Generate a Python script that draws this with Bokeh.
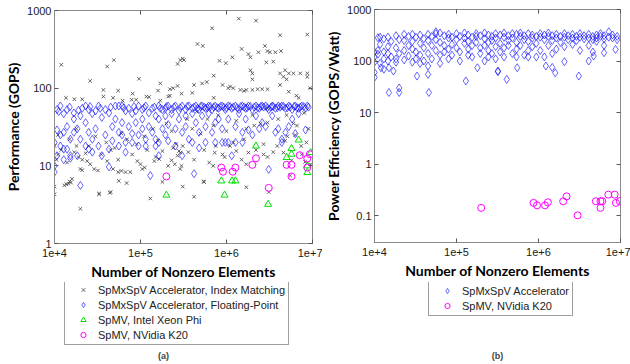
from bokeh.plotting import figure
from bokeh.models import LogAxis, FixedTicker, Legend, LegendItem, Label, Range1d
from bokeh.layouts import row, column
from bokeh.embed import file_html
from bokeh.resources import INLINE

# ---------------- tick definitions ----------------
x_ticks = [10000, 100000, 1000000, 10000000]
x_tick_labels = ["1e+4", "1e+5", "1e+6", "1e+7"]
perf_ticks = [1, 10, 100, 1000]
perf_tick_labels = ["1", "10", "100", "1000"]
eff_ticks = [0.1, 1, 10, 100, 1000]
eff_tick_labels = ["0.1", "1", "10", "100", "1000"]

# ---------------- panel (a): performance ----------------
# SpMxSpV Accelerator, Index Matching
idx_x = [1.2e4, 1.36e4, 1.7e4, 2.1e4, 2.6e4, 3.7e4, 3.7e4, 4.1e4, 4.9e4, 4.8e4, 5.5e4, 6.2e4,
         7.9e4, 8.1e4, 9.6e4, 8.9e4, 1.17e5, 1.26e5, 1.6e5, 1.7e5, 1.7e5, 2.1e5, 2.2e5, 2.4e5,
         2.2e5, 2.7e5, 2.9e5, 2.7e5, 3.1e5, 3.0e5, 3.2e5, 4.0e5, 4.2e5, 4.6e5, 5.3e5, 5.2e5,
         5.9e5, 6.8e5, 7.1e5, 7.1e5, 8.3e5, 9.0e5, 9.8e5, 1.05e6, 1.1e6, 1.17e6, 1.2e6, 1.39e6,
         1.45e6, 1.5e6, 1.8e6, 1.9e6, 1.9e6, 2.0e6, 2.0e6, 1.7e6, 2.0e6, 2.2e6, 2.3e6, 2.35e6,
         2.6e6, 2.8e6, 2.9e6, 3.0e6, 3.2e6, 3.7e6, 4.2e6, 4.3e6, 4.2e6, 4.2e6, 4.6e6, 4.8e6,
         5.0e6, 5.3e6, 5.3e6, 6.0e6, 6.5e6, 6.9e6, 7.2e6, 8.7e6, 8.7e6, 8.7e6, 9.4e6, 3.0e6,
         3.5e6, 1.6e6,
         1.0e4, 1.1e4, 1.05e4, 1.0e4, 1.0e4, 1.37e4, 1.5e4, 1.55e4, 1.6e4, 1.3e4, 2.0e4, 1.8e4,
         1.9e4, 2.3e4, 2.4e4, 2.6e4, 2.9e4, 3.2e4, 2.0e4, 2.1e4, 3.3e4, 4.4e4, 4.1e4, 4.8e4,
         5.5e4, 6.0e4, 6.7e4, 7.6e4, 9.2e4, 1.0e5, 1.05e5, 1.12e5, 1.3e5, 1.45e5, 1.65e5, 1.8e5,
         1.8e5, 2.3e5, 2.5e5, 2.8e5, 3.1e5, 3.1e5, 2.7e5, 2.9e5, 3.0e5, 2.9e5, 4.2e5, 5.4e5,
         5.5e5, 7.0e5, 7.3e5, 9.0e5, 1.1e6, 1.3e6, 1.7e6, 1.7e6, 2.7e6, 3.0e6, 3.9e6, 4.6e6,
         5.7e6, 5.5e6, 6.6e6, 5.1e6, 7.4e6, 8.2e6, 2.7e6, 1.8e6, 1.6e6, 2.1e6, 3.0e6, 6.3e6,
         3.1e6, 4.5e4, 6.9e4, 5.6e4, 1.45e4, 3.3e4, 9.5e6,
         1.1e4, 1.5e4, 1.8e4, 2.5e4, 3.0e4, 4.0e4, 5.0e4, 6.0e4, 7.0e4, 9.0e4, 1.1e5, 1.4e5,
         1.6e5, 2.0e5, 2.3e5, 2.6e5, 3.5e5, 4.0e5, 4.5e5, 5.0e5, 6.0e5, 7.0e5, 8.0e5, 1.0e6,
         1.3e6, 1.7e6, 2.0e6, 2.5e6, 3.0e6, 4.0e6, 5.0e6, 6.0e6, 8.0e6, 9.0e6,
         1.2e4, 1.4e4, 1.7e4, 2.1e4, 3.5e4, 4.5e4, 5.5e4, 8.0e4, 1.2e5, 1.5e5, 2.1e5, 2.4e5,
         3.6e5, 4.2e5, 5.5e5, 6.3e5, 7.5e5, 9.5e5, 1.2e6, 1.5e6, 2.2e6, 3.5e6, 4.8e6, 7.5e6,
         8.5e6]
idx_y = [200, 75, 72, 72, 124, 95, 78, 190, 230, 75, 93, 69,
         71, 85, 132, 71, 78, 77, 93, 115, 69, 78, 80, 100,
         97, 107, 230, 205, 240, 85, 230, 87, 110, 370, 350, 115,
         120, 590, 145, 75, 225, 110, 210, 100, 105, 250, 100, 785,
         95, 320, 275, 250, 170, 155, 130, 95, 95, 740, 97, 290,
         97, 350, 215, 97, 290, 290, 480, 300, 155, 110, 140, 170,
         130, 155, 90, 155, 80, 75, 155, 490, 155, 140, 100, 300,
         220, 92,
         18, 14, 12, 5.4, 4.3, 5.8, 6.3, 6.1, 6.8, 5.6, 2.8, 18,
         13, 14.5, 11.5, 10.5, 9.1, 8.7, 9.1, 8.8, 4.4, 4.5, 11.5, 9.1,
         8.3, 8.6, 8.3, 8.3, 11.5, 10.5, 9.1, 9.5, 3.8, 11.5, 12.2, 15.5,
         6.2, 11.8, 10.5, 15.5, 5.4, 18, 13.5, 14.8, 10, 9.1, 4.0, 6.3,
         6.2, 10, 14.8, 14, 18, 15.5, 5.3, 10.5, 19, 13, 18, 14.8,
         11.8, 7.5, 33, 24, 18, 11.2, 14, 14.8, 22, 33, 36, 25,
         4.6, 4.6, 6.0, 6.4, 5.9, 4.3, 10.5,
         25, 22, 30, 18, 24, 20, 17, 26, 22, 19, 24, 30,
         21, 35, 28, 19, 40, 30, 50, 26, 40, 33, 45, 28,
         38, 30, 45, 35, 55, 40, 45, 35, 48, 30,
         16, 11, 15, 12, 14, 16, 12, 14, 16, 13, 10, 17,
         15, 12, 16, 11, 18, 13, 20, 12, 16, 15, 21, 14,
         20]

# SpMxSpV Accelerator, Floating-Point (x positions and the values found at each)
fp_cols_x = [1.0e4, 1.07e4, 1.17e4, 1.28e4, 1.4e4, 1.53e4, 1.68e4, 1.84e4, 2.0e4, 2.1e4,
             2.3e4, 2.5e4, 2.75e4, 3.0e4, 3.25e4, 3.55e4, 3.9e4, 4.3e4, 4.7e4, 5.1e4,
             5.6e4, 6.1e4, 6.7e4, 7.3e4, 8.0e4, 8.8e4, 9.5e4, 1.05e5, 1.15e5, 1.25e5,
             1.3e5, 1.37e5, 1.5e5, 1.63e5, 1.8e5, 1.95e5, 2.1e5, 2.3e5, 2.55e5, 2.8e5,
             3.05e5, 3.35e5, 3.65e5, 4.0e5, 4.2e5, 4.4e5, 4.8e5, 5.2e5, 5.7e5, 6.2e5,
             6.8e5, 7.4e5, 8.1e5, 8.9e5, 9.7e5, 1.05e6, 1.15e6, 1.27e6, 1.4e6, 1.53e6,
             1.67e6, 1.8e6, 2.0e6, 2.2e6, 2.4e6, 2.6e6, 2.85e6, 3.1e6, 3.4e6, 3.7e6,
             4.0e6, 4.4e6, 4.85e6, 5.3e6, 5.8e6, 6.3e6, 6.9e6, 7.5e6, 8.3e6, 8.7e6]
fp_cols_y = [[20, 10, 8.3], [29, 53, 13.5], [59, 25, 18], [47, 27, 16.4, 12], [53, 32, 16.4],
             [22, 13.5, 12.5], [48, 40, 27], [30, 13.5], [5.6, 44, 22], [55],
             [59, 18, 36], [53, 27, 16.4], [47, 22, 15], [51, 30], [59, 18],
             [42, 13.5], [53, 25], [48, 16.4, 9.7], [32, 21], [59, 40],
             [59, 18, 27], [59, 36, 25], [51, 20, 15], [55, 32], [47, 26, 20],
             [51, 36], [59, 25, 18], [53, 40, 30], [59, 22, 18], [48, 32],
             [7.5], [55, 27], [44, 22, 18], [59, 40, 20, 13.5], [53, 30],
             [55, 44, 25], [59, 34, 21], [53, 47], [59, 30, 18], [51, 40],
             [59, 27, 13.5], [53, 44, 32], [59, 22], [55, 47, 20], [7.9],
             [59, 36], [53, 27, 17], [59, 44], [55, 32, 20], [59, 47],
             [53, 27], [59, 36, 20], [55, 40], [59, 20, 30], [53, 20],
             [59, 40, 20], [55, 13.5], [59, 20, 32], [53, 47], [59, 20, 27],
             [55, 40], [59, 29], [53, 25], [59, 44], [55, 30],
             [59, 36], [59, 32], [53, 9], [59, 44], [55, 27],
             [59, 30], [59, 22, 20], [55, 27], [59, 32], [53, 40],
             [59, 26], [55, 47], [59], [55, 29], [59]]
fp_top_x = [1.12e4, 1.5e4, 1.9e4, 2.6e4, 3.4e4, 4.5e4, 6.4e4, 8.4e4, 1.1e5, 1.45e5, 1.7e5,
            2.0e5, 2.45e5, 2.9e5, 3.5e5, 4.2e5, 4.6e5, 5.0e5, 5.5e5, 6.0e5, 6.5e5, 7.1e5,
            7.8e5, 8.5e5, 9.3e5, 1.0e6, 1.1e6, 1.2e6, 1.33e6, 1.46e6, 1.6e6, 1.74e6, 1.9e6,
            2.1e6, 2.3e6, 2.5e6, 2.7e6, 3.0e6, 3.3e6, 3.5e6, 3.9e6, 4.2e6, 4.6e6, 5.1e6,
            5.5e6, 6.1e6, 6.6e6, 7.2e6, 7.9e6, 9.0e6]
fp_top_y = [50, 57, 52, 58, 55, 57, 56, 58, 56, 57, 55,
            58, 57, 56, 58, 57, 55, 58, 57, 56, 58, 57,
            56, 58, 57, 56, 58, 57, 56, 58, 57, 56, 58,
            57, 56, 58, 57, 56, 57, 58, 56, 57, 58, 56,
            57, 58, 56, 57, 58, 57]

# SpMV, Intel Xeon Phi
phi_x = [2.0e5, 8.7e5, 1.16e6, 1.27e6, 9.5e5, 2.2e6, 3.05e6, 5.0e6, 5.7e6, 5.7e6, 6.9e6,
         8.7e6, 8.7e6, 9.5e6]
phi_y = [4.2, 6.4, 6.4, 6.4, 4.2, 18, 3.2, 12.8, 14.1, 16.7, 21.5, 8.2, 10, 14.8]

# SpMV, NVidia K20
k20_x = [2.0e5, 8.7e5, 9.1e5, 1.18e6, 1.27e6, 2.0e6, 2.2e6, 3.1e6, 5.0e6, 5.7e6, 5.7e6,
         7.1e6, 8.7e6, 8.7e6, 9.3e6]
k20_y = [7.3, 9.5, 8.4, 8.4, 9.5, 10.3, 12.5, 5.2, 10.3, 10.3, 7.3, 13.7, 12.4, 9.5, 14.1]

# ---------------- panel (b): power efficiency ----------------
eff_cols_x = [1.0e4, 1.1e4, 1.17e4, 1.2e4, 1.3e4, 1.46e4, 1.5e4, 1.6e4, 1.7e4, 1.83e4,
              2.0e4, 2.3e4, 2.6e4, 2.9e4, 3.2e4, 3.3e4, 3.6e4, 4.0e4, 4.5e4, 4.6e4,
              5.0e4, 5.6e4, 6.3e4, 7.1e4, 8.0e4, 8.8e4, 1.0e5, 1.1e5, 1.25e5, 1.3e5,
              1.39e5, 1.55e5, 1.74e5, 1.8e5, 1.95e5, 2.2e5, 2.45e5, 2.7e5, 3.0e5, 3.2e5,
              3.4e5, 3.8e5, 4.1e5, 4.3e5, 4.8e5, 5.4e5, 5.5e5, 6.0e5, 6.7e5, 7.5e5,
              8.4e5, 9.4e5, 1.05e6, 1.18e6, 1.23e6, 1.32e6, 1.47e6, 1.6e6, 1.65e6, 1.85e6,
              2.07e6, 2.3e6, 2.6e6, 2.9e6, 3.1e6, 3.2e6, 3.6e6, 4.1e6, 4.6e6, 4.7e6,
              5.1e6, 5.7e6, 6.3e6, 7.2e6, 8.0e6, 8.7e6, 9.1e6]
eff_cols_y = [[150, 120, 95, 60, 48], [283, 160, 135], [290, 210, 90], [74], [270, 150, 110, 69],
              [290, 190, 140, 100], [24.5, 74], [240, 120], [64], [310, 180, 95, 110],
              [260, 140, 24.5, 30], [330, 250, 160, 105], [300, 200, 125], [330, 240, 170, 95],
              [290, 150, 110], [51], [320, 220, 130, 90], [270, 180, 100], [330, 250, 140, 80, 55],
              [24.5], [300, 200, 110], [370, 340, 260, 160], [350, 230, 130, 90], [310, 200, 150],
              [330, 280, 170, 110], [290, 210, 130], [340, 260, 180], [300, 150, 100],
              [350, 280, 220], [41], [320, 240, 170, 130], [290, 200, 120], [340, 300, 230],
              [74], [310, 180, 140], [350, 270, 200, 100], [320, 230, 160, 120], [300, 250, 140],
              [340, 280, 190, 110], [64, 62], [320, 220, 150], [350, 290, 180, 120], [44],
              [310, 250, 200], [340, 280, 140], [330, 230, 170, 120], [74], [350, 300, 200],
              [310, 260, 130], [340, 240, 160, 120], [320, 280, 190], [300, 220, 120],
              [340, 290, 160], [320, 260, 120], [80], [350, 300, 200], [310, 250, 140, 75],
              [59], [330, 280, 170], [300, 230], [340, 290, 190, 97], [310, 260],
              [330, 280, 210], [300, 250], [51], [340, 290, 160], [310, 270],
              [330, 280, 200, 100], [300, 260, 150], [125], [320, 280, 240], [340, 300],
              [310, 270, 200, 145], [370, 290], [320, 280], [168], [300, 260]]

eff_k20_x = [2.0e5, 8.7e5, 9.6e5, 1.2e6, 1.3e6, 2.0e6, 2.2e6, 3.0e6, 5.0e6, 5.7e6, 6.0e6,
             5.7e6, 7.1e6, 8.5e6, 8.8e6, 9.8e6]
eff_k20_y = [0.141, 0.176, 0.158, 0.158, 0.181, 0.189, 0.236, 0.101, 0.19, 0.19, 0.19,
             0.141, 0.255, 0.255, 0.176, 0.19]

legend_a_labels = ["SpMxSpV Accelerator, Index Matching", "SpMxSpV Accelerator, Floating-Point",
                   "SpMV, Intel Xeon Phi", "SpMV, NVidia K20"]
legend_b_labels = ["SpMxSpV Accelerator", "SpMV, NVidia K20"]

fp_x = [x for x, ys in zip(fp_cols_x, fp_cols_y) for _ in ys] + fp_top_x
fp_y = [y for ys in fp_cols_y for y in ys] + fp_top_y
eff_x = [x for x, ys in zip(eff_cols_x, eff_cols_y) for _ in ys]
eff_y = [y for ys in eff_cols_y for y in ys]

NAN = [float("nan")]  # legend-only proxy renderers (nothing drawn)

FRAME = "#8a8a8a"
TICK = "#555555"

IDX_STYLE = dict(marker="x", size=5, line_color="#4a4a4a", line_alpha=0.85, line_width=1)
FP_STYLE = dict(marker="diamond", size=8, fill_color=None, line_color="#0000ff",
                line_alpha=0.6, line_width=1)
PHI_STYLE = dict(marker="triangle", size=7, fill_color=None, line_color="#00e000", line_width=1)
K20_STYLE = dict(marker="circle", size=7, fill_color=None, line_color="#ff00ff", line_width=1)


def style_axis(ax, ticks, labels, label):
    ax.ticker = FixedTicker(ticks=ticks)
    ax.major_label_overrides = dict(zip(ticks, labels))
    ax.major_tick_in = 4
    ax.major_tick_out = 0
    ax.minor_tick_in = 0
    ax.minor_tick_out = 0
    ax.axis_line_color = FRAME
    ax.major_tick_line_color = TICK
    ax.major_label_text_font = "Liberation Sans"
    ax.major_label_text_font_size = "11px"
    ax.major_label_text_color = "#1a1a1a"
    ax.axis_label = label
    ax.axis_label_text_font = "Lato"
    ax.axis_label_text_font_style = "bold"
    ax.axis_label_text_font_size = "14px"
    ax.axis_label_text_color = "#000000"


def mirror(p, ticks, side):
    ax = LogAxis(ticker=FixedTicker(ticks=ticks),
                 major_label_overrides={t: "" for t in ticks},
                 major_label_text_font_size="0px", major_label_standoff=0,
                 major_tick_in=4, major_tick_out=0, minor_tick_in=0, minor_tick_out=0,
                 axis_line_color=None, major_tick_line_color=TICK)
    p.add_layout(ax, side)


def make_fig(width, yr, bl, br, bt, bb, ylabel, yticks, ylabels):
    p = figure(width=width, height=282, x_axis_type="log", y_axis_type="log",
               x_range=Range1d(1e4, 1e7), y_range=Range1d(*yr),
               output_backend="svg", toolbar_location=None,
               min_border_left=bl, min_border_right=br, min_border_top=bt, min_border_bottom=bb)
    p.xgrid.visible = False
    p.ygrid.visible = False
    p.outline_line_color = FRAME
    p.outline_line_width = 1
    p.background_fill_color = "white"
    p.border_fill_color = "white"
    style_axis(p.xaxis[0], x_ticks, x_tick_labels, "Number of Nonzero Elements")
    p.xaxis[0].major_label_standoff = 5
    p.xaxis[0].axis_label_standoff = 3
    style_axis(p.yaxis[0], yticks, ylabels, ylabel)
    p.yaxis[0].major_label_standoff = 3
    p.yaxis[0].axis_label_standoff = 2
    mirror(p, x_ticks, "above")
    mirror(p, yticks, "right")
    return p


def legend_fig(width):
    f = figure(width=width, height=82, x_range=Range1d(0, 1), y_range=Range1d(0, 1),
               x_axis_location=None, y_axis_location=None, output_backend="svg",
               toolbar_location=None, min_border=0, outline_line_color=None)
    f.xgrid.visible = False
    f.ygrid.visible = False
    return f


def make_legend(items, loc):
    return Legend(items=items, location=loc, orientation="vertical",
                  border_line_color="#404040", border_line_width=1,
                  background_fill_color="white", background_fill_alpha=1,
                  label_text_font="Liberation Sans", label_text_font_size="11px",
                  label_text_color="#222222",
                  glyph_width=30, glyph_height=13, label_height=13, label_standoff=0,
                  padding=3, spacing=2, margin=0)


# ---------- panel (a) ----------
pa = make_fig(322, (1, 1000), 54, 10, 10, 39, "Performance (GOPS)", perf_ticks, perf_tick_labels)
pa.scatter(idx_x, idx_y, **IDX_STYLE)
pa.scatter(fp_x, fp_y, **FP_STYLE)
pa.scatter(phi_x, phi_y, **PHI_STYLE)
pa.scatter(k20_x, k20_y, **K20_STYLE)

# legend area below panel (a); its frame lines up with the plot frame above (x from 54)
la = legend_fig(322)
l_idx = la.scatter(NAN, NAN, **IDX_STYLE)
l_fp = la.scatter(NAN, NAN, **FP_STYLE)
l_phi = la.scatter(NAN, NAN, **PHI_STYLE)
l_k20 = la.scatter(NAN, NAN, **K20_STYLE)
la.add_layout(make_legend([LegendItem(label=legend_a_labels[0], renderers=[l_idx]),
                           LegendItem(label=legend_a_labels[1], renderers=[l_fp]),
                           LegendItem(label=legend_a_labels[2], renderers=[l_phi]),
                           LegendItem(label=legend_a_labels[3], renderers=[l_k20])], (10, 19)))
la.add_layout(Label(x=109, y=9, x_units="screen", y_units="screen", text="(a)",
                    text_font="Liberation Sans", text_font_style="bold", text_font_size="9px",
                    text_align="center", text_baseline="middle"))

# ---------- panel (b) ----------
pb = make_fig(308, (0.03, 1000), 42, 10, 9, 40, "Power Efficiency (GOPS/Watt)", eff_ticks, eff_tick_labels)
pb.scatter(eff_x, eff_y, **FP_STYLE)
pb.scatter(eff_k20_x, eff_k20_y, **K20_STYLE)

lb = legend_fig(308)
m_fp = lb.scatter(NAN, NAN, **FP_STYLE)
m_k20 = lb.scatter(NAN, NAN, **K20_STYLE)
lb.add_layout(make_legend([LegendItem(label=legend_b_labels[0], renderers=[m_fp]),
                           LegendItem(label=legend_b_labels[1], renderers=[m_k20])], (54, 48)))
lb.add_layout(Label(x=123, y=9, x_units="screen", y_units="screen", text="(b)",
                    text_font="Liberation Sans", text_font_style="bold", text_font_size="9px",
                    text_align="center", text_baseline="middle"))

layout = row(column(pa, la), column(pb, lb))
open("out.html", "w").write(file_html(layout, INLINE))
